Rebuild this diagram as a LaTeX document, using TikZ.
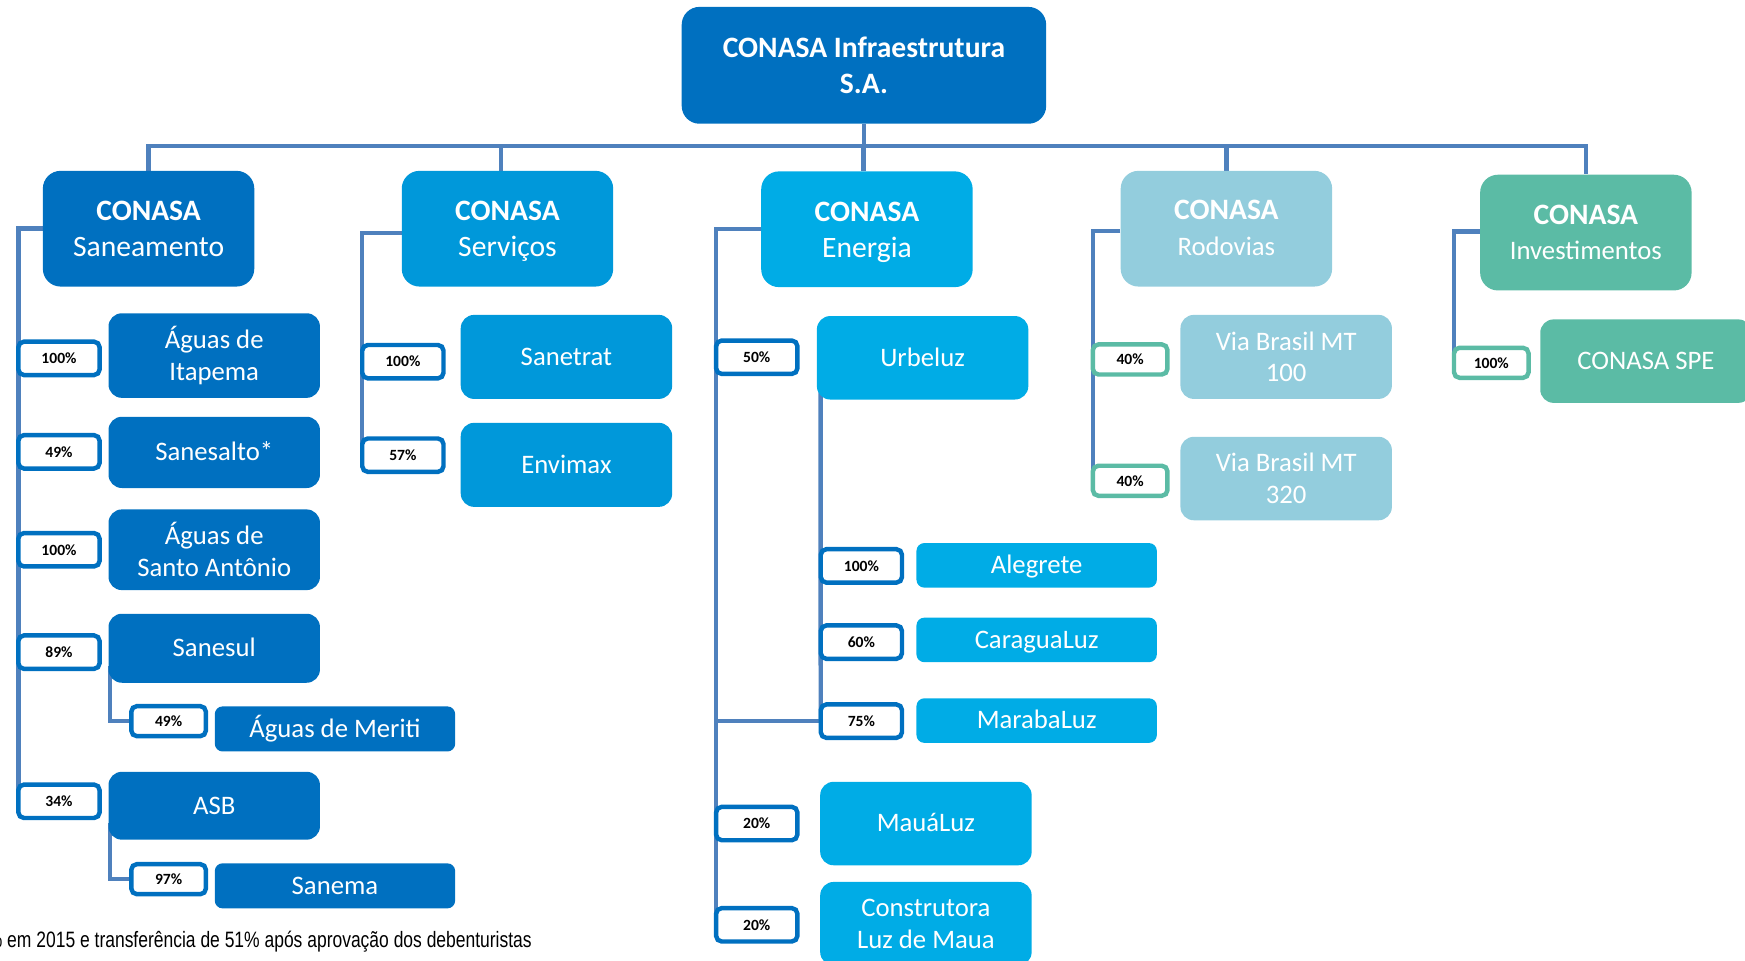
\documentclass[tikz,border=0pt]{standalone}
\usepackage{fontspec}
\setmainfont{Carlito}
\newfontfamily\notefont[FakeStretch=0.785]{Liberation Sans}
\definecolor{cA}{RGB}{0,112,192}
\definecolor{cB}{RGB}{0,152,218}
\definecolor{cC}{RGB}{0,172,230}
\definecolor{cD}{RGB}{147,205,221}
\definecolor{cE}{RGB}{91,187,165}
\definecolor{lnc}{RGB}{79,129,189}
\pgfdeclarelayer{bg}
\pgfsetlayers{bg,main}
\tikzset{
 conn/.style={draw=lnc, line width=4pt},
 topbox/.style={fill=cA, rounded corners=16pt, text=white, align=center, inner sep=0pt, minimum width=327.5pt, minimum height=105pt, font=\bfseries\fontsize{26.6}{31.5}\selectfont},
 lvbox/.style={rounded corners=16pt, text=white, align=center, inner sep=0pt, minimum width=190pt, minimum height=104pt, text height=50pt, text depth=0pt, font=\fontsize{26.6}{32}\selectfont},
 subbox/.style={rounded corners=12pt, text=white, align=center, inner sep=0pt, minimum width=190pt, font=\fontsize{24}{28.5}\selectfont},
 oneline/.style={text height=16.5pt, text depth=1.5pt},
 thinbox/.style={rounded corners=7pt, text=white, align=center, inner sep=0pt, minimum width=216pt, minimum height=40.5pt, oneline, font=\fontsize{24}{28.5}\selectfont},
 pct/.style={draw=#1, fill=white, line width=4pt, rounded corners=5pt, outer sep=0pt, inner sep=0pt, minimum width=73pt, minimum height=30pt, text=black, font=\bfseries\fontsize{14}{14}\selectfont},
 pctg/.style={pct=cE, minimum width=67pt, minimum height=27pt},
}
\begin{document}
\begin{tikzpicture}[x=1pt,y=-1pt]
\useasboundingbox (0,0) rectangle (1568,863.5);
\clip (0,0) rectangle (1568,863.5);

% top
\node[topbox] (top) at (776.3,58.7) {CONASA Infraestrutura\\S.A.};

% level 1
\node[lvbox, fill=cA] (sane) at (133.5,205.5) {\textbf{CONASA}\\Saneamento};
\node[lvbox, fill=cB] (serv) at (456,205.5) {\textbf{CONASA}\\Serviços};
\node[lvbox, fill=cC] (ener) at (779,206) {\textbf{CONASA}\\Energia};
\node[lvbox, fill=cD, text height=48pt] (rodo) at (1102,205.5) {\textbf{CONASA}\\{\fontsize{24}{30}\selectfont Rodovias}};
\node[lvbox, fill=cE, text height=49pt] (inve) at (1425,209) {\textbf{CONASA}\\{\fontsize{24}{29}\selectfont Investimentos}};

% Saneamento
\node[subbox, fill=cA, minimum height=76pt] (itap) at (192.5,319.5) {Águas de\\Itapema};
\node[subbox, fill=cA, minimum height=64pt, oneline] (sals) at (192.5,406.5) {Sanesalto*};
\node[subbox, fill=cA, minimum height=72.5pt] (sant) at (192.5,494) {Águas de\\Santo Antônio};
\node[subbox, fill=cA, minimum height=62pt, oneline] (snsl) at (192.5,582.5) {Sanesul};
\node[thinbox, fill=cA] (meri) at (301,655) {Águas de Meriti};
\node[subbox, fill=cA, minimum height=61pt, oneline] (asb) at (192.5,724) {ASB};
\node[thinbox, fill=cA] (snma) at (301,796) {Sanema};

\node[pct=cA] (p1) at (53,322) {100\%};
\node[pct=cA] (p2) at (53,406) {49\%};
\node[pct=cA] (p3) at (53,494) {100\%};
\node[pct=cA] (p4) at (53,586) {89\%};
\node[pct=cA] (p5) at (53,720) {34\%};
\node[pct=cA, minimum width=67pt, minimum height=27pt] (pm) at (151.5,648) {49\%};
\node[pct=cA, minimum width=67pt, minimum height=27pt] (p97) at (151.5,790) {97\%};

% Servicos
\node[subbox, fill=cB, minimum height=75.5pt, oneline] (sntr) at (509,320.7) {Sanetrat};
\node[subbox, fill=cB, minimum height=75.5pt, oneline] (envi) at (509,417.7) {Envimax};
\node[pct=cA] (s100) at (362,325) {100\%};
\node[pct=cA] (s57) at (362,409) {57\%};

% Energia
\node[subbox, fill=cC, minimum height=75pt, oneline] (urbe) at (829,321.5) {Urbeluz};
\node[thinbox, fill=cC, minimum height=40pt] (aleg) at (931.5,508) {Alegrete};
\node[thinbox, fill=cC, minimum height=40pt] (cara) at (931.5,575) {CaraguaLuz};
\node[thinbox, fill=cC, minimum height=40pt] (mara) at (931.5,647.5) {MarabaLuz};
\node[subbox, fill=cC, minimum height=75pt, oneline] (maua) at (832,740) {MauáLuz};
\node[subbox, fill=cC, minimum height=75pt] (cons) at (832,830) {Construtora\\Luz de Maua};
\node[pct=cA] (e50) at (680,321) {50\%};
\node[pct=cA] (e100) at (774,508.5) {100\%};
\node[pct=cA] (e60) at (774,577) {60\%};
\node[pct=cA] (e75) at (774,648) {75\%};
\node[pct=cA] (e20a) at (680,740) {20\%};
\node[pct=cA] (e20b) at (680,831) {20\%};

% Rodovias
\node[subbox, fill=cD, minimum height=75.5pt] (vb1) at (1155.7,320.7) {Via Brasil MT\\100};
\node[subbox, fill=cD, minimum height=75pt] (vb2) at (1155.7,430) {Via Brasil MT\\320};
\node[pctg] (r40a) at (1015.5,323) {40\%};
\node[pctg] (r40b) at (1015.5,432) {40\%};

% Investimentos
\node[subbox, fill=cE, minimum height=75pt, oneline] (spe) at (1479,324.5) {CONASA SPE};
\node[pctg] (i100) at (1340,326) {100\%};

% footnote
\node[anchor=base west, inner sep=0pt, font=\notefont\fontsize{20}{21}\selectfont] (note) at (-12,851) {\% em 2015 e transferência de 51\% após aprovação dos debenturistas};

\begin{pgfonlayer}{bg}
\draw[conn] (top.south) -- ++(0,20.5);
\draw[conn] (sane.north) -- ++(0,-22) -| (inve.north);
\draw[conn] ([xshift=-6pt]serv.north) -- ++(0,-22);
\draw[conn] ([xshift=-3pt]ener.north) -- ++(0,-22);
\draw[conn] (rodo.north) -- ++(0,-22);

\draw[conn] (sane.west) -| (p5.west);
\draw[conn] ([xshift=1.5pt,yshift=15pt]snsl.south west) |- (pm.west);
\draw[conn] ([xshift=1.5pt,yshift=15pt]asb.south west) |- (p97.west);

\draw[conn] ([yshift=-4pt]serv.west) -| (s57.west);

\draw[conn] (ener.west) -| (e20b.west);
\draw[conn] ([xshift=3.5pt,yshift=15pt]urbe.south west) -- (e75.west);
\draw[conn] (e75.west) -- (e75.west -| e20b.west);

\draw[conn] ([yshift=-2pt]rodo.west) -| (r40b.west);
\draw[conn] ([yshift=1pt]inve.west) -| (i100.west);
\end{pgfonlayer}
\end{tikzpicture}
\end{document}
